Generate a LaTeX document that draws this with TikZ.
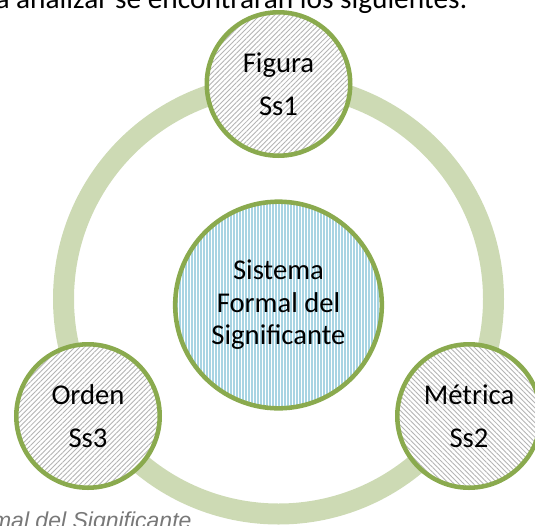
\documentclass[tikz,border=0pt]{standalone}
\usepackage{fontspec}
\setmainfont{Carlito}
\newfontfamily\capfont{Liberation Sans}
\usetikzlibrary{patterns,patterns.meta}
\definecolor{ringgreen}{RGB}{205,218,180}
\definecolor{rimgreen}{RGB}{138,170,78}
\definecolor{stripeblue}{RGB}{168,212,227}
\definecolor{hatchgray}{RGB}{180,180,180}
\definecolor{capgray}{RGB}{120,120,120}
\tikzset{every picture/.style={line width=0.75pt},
  ringline/.style={draw=ringgreen, line width=15.75pt},
  subsys/.style={circle, draw=rimgreen, line width=3.4pt, minimum size=107.6pt, inner sep=0pt,
    preaction={fill=white}, pattern color=hatchgray, align=center,
    font=\fontsize{21.5}{32}\selectfont},
  hatchup/.style={pattern={Lines[angle=45,distance=2.6pt,line width=0.65pt]}},
  hatchdown/.style={pattern={Lines[angle=-45,distance=2.6pt,line width=0.65pt]}},
  coresys/.style={circle, draw=rimgreen, line width=3.4pt, minimum size=155pt, inner sep=0pt,
    preaction={fill=white}, pattern={Lines[angle=90,distance=2.25pt,line width=1pt]},
    pattern color=stripeblue, align=center, font=\fontsize{21.5}{24.4}\selectfont}}
\begin{document}
\begin{tikzpicture}[x=0.75pt,y=0.75pt,yscale=-1,xscale=1]
\useasboundingbox (0,0) rectangle (535,525);
%Shape: Ring
\draw [ringline] (278.5,299) circle [radius=215];
%Shape: Circle
\draw (278.5,305) node (sfs) [coresys] {Sistema\\Formal del\\Significante};
%Shape: Circle
\draw (278.5,84) node (figura) [subsys, hatchup] {Figura\\Ss1};
%Shape: Circle
\draw (469,416) node (metrica) [subsys, hatchdown] {Métrica\\Ss2};
%Shape: Circle
\draw (88,416) node (orden) [subsys, hatchup] {Orden\\Ss3};
% Text Node
\draw (468,8) node (intro) [anchor=base east][inner sep=0pt] [font=\fontsize{22}{26}\selectfont] {a analizar se encontrarán los siguientes:};
% Text Node
\draw (192,528) node (caption) [anchor=base east][inner sep=0pt] [font=\capfont\itshape\fontsize{17.25}{20}\selectfont, text=capgray] {mal del Significante};
\end{tikzpicture}
\end{document}
